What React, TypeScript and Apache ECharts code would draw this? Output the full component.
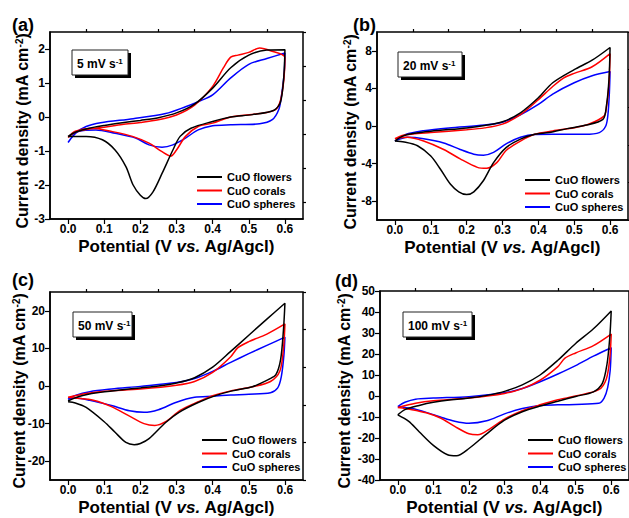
import React, { useEffect, useRef } from 'react';
import * as echarts from 'echarts';

const seriesNames = ['CuO flowers', 'CuO corals', 'CuO spheres'];
const panelLabels = ['(a)', '(b)', '(c)', '(d)'];
const scanRates = ['5', '20', '50', '100'];

const xTicks = [0, 0.1, 0.2, 0.3, 0.4, 0.5, 0.6];
const xMinorTicks = [0.05, 0.15, 0.25, 0.35, 0.45, 0.55];

const yTicksA = [-3, -2, -1, 0, 1, 2];
const yMinorA = [-2.5, -1.5, -0.5, 0.5, 1.5, 2.5];
const yTicksB = [-8, -4, 0, 4, 8];
const yMinorB = [-10, -6, -2, 2, 6, 10];
const yTicksC = [-20, -10, 0, 10, 20];
const yMinorC = [-25, -15, -5, 5, 15, 25];
const yTicksD = [-40, -30, -20, -10, 0, 10, 20, 30, 40, 50];
const yMinorD = [-35, -25, -15, -5, 5, 15, 25, 35, 45];

// (a) 5 mV/s
const aFlowers = [
  [0, -0.57], [0.02, -0.45], [0.05, -0.35], [0.1, -0.25], [0.15, -0.17], [0.2, -0.1], [0.25, -0.02], [0.3, 0.12],
  [0.35, 0.38], [0.4, 0.85], [0.45, 1.45], [0.5, 1.82], [0.55, 1.97], [0.6, 1.98],
  [0.597, 1.2], [0.588, 0.45], [0.57, 0.2], [0.51, 0.07], [0.45, 0], [0.4, -0.13], [0.34, -0.33], [0.31, -0.57],
  [0.29, -0.97], [0.26, -1.66], [0.235, -2.2], [0.215, -2.4], [0.2, -2.3], [0.18, -2.0], [0.16, -1.46], [0.13, -0.97],
  [0.095, -0.67], [0.05, -0.57], [0, -0.57],
];
const aCorals = [
  [0, -0.6], [0.02, -0.45], [0.05, -0.37], [0.1, -0.3], [0.15, -0.22], [0.2, -0.16], [0.25, -0.08], [0.3, 0.06],
  [0.35, 0.35], [0.4, 0.9], [0.43, 1.45], [0.45, 1.76], [0.47, 1.82], [0.5, 1.9], [0.53, 2.03], [0.56, 1.95], [0.6, 1.75],
  [0.597, 1.1], [0.588, 0.5], [0.574, 0.22], [0.53, 0.1], [0.45, 0], [0.4, -0.18], [0.36, -0.28], [0.325, -0.57],
  [0.3, -0.97], [0.284, -1.15], [0.26, -1.02], [0.224, -0.77], [0.178, -0.57], [0.123, -0.43], [0.067, -0.33],
  [0.02, -0.42], [0, -0.6],
];
const aSpheres = [
  [0, -0.75], [0.02, -0.48], [0.05, -0.28], [0.09, -0.17], [0.18, -0.05], [0.27, 0.1], [0.325, 0.3], [0.36, 0.45],
  [0.4, 0.65], [0.45, 1.15], [0.5, 1.55], [0.55, 1.72], [0.6, 1.88],
  [0.598, 1.3], [0.59, 0.6], [0.583, 0.22], [0.565, -0.08], [0.53, -0.2], [0.45, -0.23], [0.4, -0.26], [0.36, -0.38],
  [0.325, -0.62], [0.29, -0.82], [0.26, -0.89], [0.224, -0.82], [0.187, -0.62], [0.13, -0.48], [0.077, -0.38],
  [0.03, -0.42], [0, -0.75],
];

// (b) 20 mV/s
const bFlowers = [
  [0, -1.6], [0.02, -1.1], [0.05, -0.8], [0.1, -0.55], [0.2, -0.2], [0.25, 0.05], [0.3, 0.45], [0.35, 1.4], [0.4, 3.0],
  [0.44, 4.6], [0.5, 6.0], [0.55, 7.0], [0.6, 8.35],
  [0.597, 5], [0.59, 2.2], [0.58, 0.7], [0.53, 0.07], [0.48, -0.28], [0.43, -0.7], [0.39, -0.88], [0.35, -1.4],
  [0.31, -2.3], [0.275, -3.9], [0.247, -5.8], [0.22, -7.0], [0.2, -7.3], [0.178, -7.0], [0.155, -6.2], [0.127, -4.6],
  [0.1, -3.2], [0.063, -2.1], [0.026, -1.7], [0, -1.6],
];
const bCorals = [
  [0, -1.35], [0.02, -1.0], [0.05, -0.85], [0.1, -0.7], [0.2, -0.4], [0.25, -0.2], [0.3, 0.2], [0.35, 1.2], [0.4, 2.8],
  [0.44, 4.2], [0.47, 5.1], [0.5, 5.6], [0.55, 6.3], [0.6, 7.7],
  [0.597, 4.5], [0.59, 2.0], [0.583, 1.05], [0.54, 0.18], [0.5, -0.18], [0.44, -0.53], [0.39, -0.88], [0.35, -1.6],
  [0.31, -2.6], [0.284, -3.9], [0.256, -4.5], [0.23, -4.4], [0.182, -3.5], [0.136, -2.5], [0.08, -1.6], [0.035, -1.2],
  [0, -1.35],
];
const bSpheres = [
  [0, -1.6], [0.03, -0.9], [0.08, -0.5], [0.15, -0.2], [0.25, 0.1], [0.3, 0.4], [0.35, 1.2], [0.4, 2.3], [0.44, 3.4],
  [0.5, 4.6], [0.55, 5.35], [0.6, 5.8],
  [0.598, 3.5], [0.594, 1.2], [0.588, 0], [0.57, -0.7], [0.53, -0.88], [0.44, -0.88], [0.39, -0.9], [0.35, -1.2],
  [0.31, -1.9], [0.275, -2.8], [0.247, -3.1], [0.22, -3.0], [0.182, -2.5], [0.136, -1.8], [0.08, -1.35], [0.035, -1.2],
  [0, -1.6],
];

// (c) 50 mV/s
const cFlowers = [
  [0, -4.0], [0.03, -2.8], [0.08, -1.8], [0.15, -1.0], [0.2, -0.5], [0.25, 0.0], [0.3, 0.8], [0.35, 2.2], [0.4, 5.0],
  [0.45, 9.2], [0.5, 13.5], [0.55, 17.8], [0.6, 22],
  [0.596, 15], [0.588, 7], [0.575, 3], [0.556, 1.8], [0.51, -0.2], [0.454, -1.3], [0.41, -2.5], [0.36, -4.4],
  [0.307, -7], [0.27, -9.7], [0.224, -14], [0.2, -15.3], [0.183, -15.6], [0.16, -15.0], [0.13, -12.3], [0.1, -9.5],
  [0.05, -5.7], [0.02, -4.5], [0, -4.2],
];
const cCorals = [
  [0, -3.0], [0.05, -2.0], [0.1, -1.4], [0.2, -0.8], [0.3, 0.2], [0.35, 1.2], [0.4, 3.6], [0.45, 7.8], [0.47, 10.2],
  [0.5, 11.8], [0.55, 13.8], [0.6, 16.5],
  [0.596, 10], [0.586, 4], [0.56, 1.2], [0.51, -0.2], [0.45, -1.3], [0.4, -2.6], [0.36, -4.2], [0.31, -6.5],
  [0.27, -9.5], [0.24, -10.5], [0.21, -10.0], [0.17, -8.0], [0.12, -5.5], [0.07, -3.8], [0.02, -3.2], [0, -3.0],
];
const cSpheres = [
  [0, -3.5], [0.02, -2.5], [0.06, -1.5], [0.12, -0.8], [0.2, -0.1], [0.3, 0.9], [0.35, 2.0], [0.4, 3.9], [0.45, 6.3],
  [0.5, 8.6], [0.55, 10.8], [0.6, 13.0],
  [0.597, 8], [0.59, 2.5], [0.58, -0.5], [0.56, -1.8], [0.5, -2.2], [0.45, -2.4], [0.4, -2.7], [0.35, -3.0],
  [0.3, -4.3], [0.25, -6.3], [0.21, -7.0], [0.17, -6.6], [0.12, -5.2], [0.06, -3.8], [0.02, -3.2], [0, -3.5],
];

// (d) 100 mV/s
const dFlowers = [
  [0, -9], [0.02, -6.5], [0.06, -4.5], [0.1, -3], [0.15, -1.8], [0.2, -1.0], [0.25, 0.3], [0.3, 2.2], [0.35, 5.3],
  [0.4, 10], [0.45, 17], [0.5, 25], [0.55, 32], [0.6, 40.5],
  [0.596, 28], [0.588, 15], [0.575, 6], [0.55, 2], [0.5, -0.2], [0.45, -2.5], [0.4, -4.8], [0.35, -7.5], [0.3, -11.5],
  [0.25, -18], [0.2, -25], [0.165, -28.5], [0.14, -28], [0.1, -23.5], [0.06, -17], [0.03, -12], [0, -9],
];
const dCorals = [
  [0, -5.5], [0.05, -3.5], [0.1, -2.3], [0.2, -1.0], [0.3, 1.2], [0.35, 3.5], [0.4, 7.5], [0.45, 14], [0.47, 18],
  [0.5, 20.5], [0.55, 24], [0.6, 29.5],
  [0.596, 18], [0.586, 8], [0.565, 3], [0.5, 0], [0.45, -1.8], [0.4, -4.2], [0.35, -7], [0.3, -11], [0.26, -15.5],
  [0.225, -18.5], [0.2, -18], [0.16, -14.5], [0.12, -10.5], [0.08, -8], [0.04, -6.5], [0, -5.5],
];
const dSpheres = [
  [0, -5], [0.02, -3], [0.05, -1.5], [0.1, -1.0], [0.2, -0.3], [0.3, 1.5], [0.35, 3.6], [0.4, 6.8], [0.45, 10.5],
  [0.5, 14.5], [0.55, 19], [0.6, 23],
  [0.597, 12], [0.59, 4], [0.58, -1], [0.565, -3.5], [0.5, -4], [0.45, -4.2], [0.4, -4.5], [0.35, -6], [0.3, -8.5],
  [0.25, -11.8], [0.2, -13], [0.16, -12], [0.12, -10], [0.08, -7.8], [0.04, -6], [0, -5],
];

const FONT = "'Liberation Sans', Arial, Helvetica, sans-serif";
const colors = ['#000000', '#ff0000', '#0000ff'];

const panels = [
  { grid: { left: 50, top: 32, width: 253, height: 187 }, yMin: -3, yMax: 2.5, yTicks: yTicksA, yMinor: yMinorA,
    data: [aFlowers, aCorals, aSpheres], label: [12, 25], box: [72, 50, 56, 25], legend: [197, 171], ytitle: [22, 131] },
  { grid: { left: 377, top: 32, width: 251, height: 188 }, yMin: -10, yMax: 10, yTicks: yTicksB, yMinor: yMinorB,
    data: [bFlowers, bCorals, bSpheres], label: [353, 25], box: [398, 52, 64, 25], legend: [525, 174], ytitle: [350, 132] },
  { grid: { left: 50, top: 292, width: 253, height: 188 }, yMin: -25, yMax: 25, yTicks: yTicksC, yMinor: yMinorC,
    data: [cFlowers, cCorals, cSpheres], label: [12, 280], box: [73, 312, 59, 25], legend: [202, 434], ytitle: [19, 391] },
  { grid: { left: 380, top: 291, width: 253, height: 189 }, yMin: -40, yMax: 50, yTicks: yTicksD, yMinor: yMinorD,
    data: [dFlowers, dCorals, dSpheres], label: [335, 281], box: [403, 312, 69, 25], legend: [528, 434], ytitle: [344, 391] },
];

const axisLine = { onZero: false, lineStyle: { color: '#000', width: 1.5 } };
const tickStyle = { color: '#000', width: 1.2 };
const labelStyle = { color: '#000', fontWeight: 'bold', fontSize: 12, fontFamily: FONT };

function buildOption() {
  const grid: any[] = [];
  const xAxis: any[] = [];
  const yAxis: any[] = [];
  const series: any[] = [];
  const legend: any[] = [];
  const graphic: any[] = [];

  panels.forEach((p, g) => {
    grid.push({ ...p.grid, show: true, borderColor: '#000', borderWidth: 1.5, backgroundColor: 'transparent' });
    xAxis.push({
      type: 'value', gridIndex: g, min: -0.05, max: 0.65, axisLine,
      axisTick: { customValues: xTicks, length: 5, lineStyle: tickStyle },
      axisLabel: { customValues: xTicks, formatter: (v: number) => v.toFixed(1), margin: 4, ...labelStyle },
      splitLine: { show: false },
      name: '{t|Potential (V }{i|vs.}{t| Ag/Agcl)}', nameLocation: 'middle', nameGap: 19,
      nameTextStyle: {
        rich: {
          t: { fontSize: 17, fontWeight: 'bold', fontFamily: FONT, color: '#000' },
          i: { fontSize: 17, fontWeight: 'bold', fontStyle: 'italic', fontFamily: FONT, color: '#000' },
        },
      },
    });
    xAxis.push({
      type: 'value', gridIndex: g, min: -0.05, max: 0.65, axisLine: { show: false, onZero: false },
      axisTick: { customValues: xMinorTicks, length: 3, lineStyle: tickStyle },
      axisLabel: { show: false }, splitLine: { show: false },
    });
    yAxis.push({
      type: 'value', gridIndex: g, min: p.yMin, max: p.yMax, axisLine,
      axisTick: { customValues: p.yTicks, length: 5, lineStyle: tickStyle },
      axisLabel: { customValues: p.yTicks, margin: 5, ...labelStyle },
      splitLine: { show: false },
    });
    yAxis.push({
      type: 'value', gridIndex: g, min: p.yMin, max: p.yMax, axisLine: { show: false, onZero: false },
      axisTick: { customValues: p.yMinor, length: 3, lineStyle: tickStyle },
      axisLabel: { show: false }, splitLine: { show: false },
    });

    p.data.forEach((d, k) => {
      series.push({
        type: 'line', name: seriesNames[k], xAxisIndex: 2 * g, yAxisIndex: 2 * g, data: d,
        showSymbol: false, symbol: 'none', smooth: 0.3, color: colors[k],
        lineStyle: { color: colors[k], width: 1.5 }, z: 5 - k,
      });
    });

    legend.push({
      data: seriesNames, orient: 'vertical', left: p.legend[0], top: p.legend[1], padding: 0,
      itemWidth: 25, itemHeight: 2, itemGap: 1.5, icon: 'rect', selectedMode: false,
      textStyle: { fontSize: 11, fontWeight: 'bold', color: '#000', fontFamily: FONT, lineHeight: 12 },
    });

    graphic.push({
      type: 'text', x: p.label[0], y: p.label[1],
      style: { text: panelLabels[g], fontSize: 18, fontWeight: 'bold', fontFamily: FONT, fill: '#000', verticalAlign: 'middle' },
    });
    graphic.push({
      type: 'text', x: p.ytitle[0], y: p.ytitle[1], rotation: Math.PI / 2,
      style: {
        text: '{t|Current density (mA cm}{s|-2}{t|)}', align: 'center', verticalAlign: 'middle', fill: '#000',
        rich: {
          t: { fontSize: 16, fontWeight: 'bold', fontFamily: FONT, fill: '#000' },
          s: { fontSize: 10, fontWeight: 'bold', fontFamily: FONT, fill: '#000', verticalAlign: 'top' },
        },
      },
    });
    const [bx, by, bw, bh] = p.box;
    graphic.push({ type: 'rect', shape: { x: bx + 3, y: by + 3, width: bw, height: bh }, style: { fill: '#000' } });
    graphic.push({ type: 'rect', shape: { x: bx, y: by, width: bw, height: bh }, style: { fill: '#fff', stroke: '#222', lineWidth: 1 } });
    graphic.push({
      type: 'text', x: bx + 5, y: by + bh / 2 + 1,
      style: {
        text: `{n|${scanRates[g]} mV s}{s|-1}`, verticalAlign: 'middle', fill: '#000',
        rich: {
          n: { fontSize: 12, fontWeight: 'bold', fontFamily: FONT, fill: '#000' },
          s: { fontSize: 8, fontWeight: 'bold', fontFamily: FONT, fill: '#000', verticalAlign: 'top' },
        },
      },
    });
  });

  return { animation: false, backgroundColor: '#fff', grid, xAxis, yAxis, series, legend, graphic };
}

export default function App() {
  const ref = useRef<HTMLDivElement>(null);
  useEffect(() => {
    if (!ref.current) return;
    const chart = echarts.init(ref.current, undefined, { renderer: 'svg' });
    chart.setOption(buildOption() as any);
    return () => chart.dispose();
  }, []);
  return <div ref={ref} style={{ position: 'absolute', left: 0, top: 0, width: 629, height: 518 }} />;
}
